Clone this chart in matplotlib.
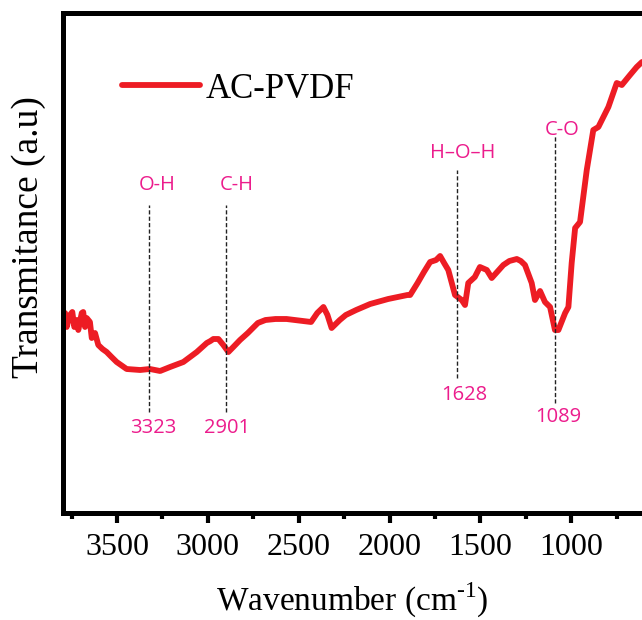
import numpy as np
import matplotlib.pyplot as plt
from matplotlib.transforms import offset_copy

plt.rcParams['mathtext.fontset'] = 'custom'
plt.rcParams['mathtext.rm'] = 'Liberation Serif'

# FTIR spectrum of AC-PVDF
wavenumber = [3800, 3786, 3777, 3759, 3746, 3735, 3722, 3713, 3694, 3686,
              3676, 3667, 3649, 3639, 3621, 3603, 3580, 3557, 3530, 3502,
              3447, 3373, 3319, 3263, 3208, 3135, 3061, 3006, 2986, 2970,
              2942, 2915, 2887, 2860, 2823, 2780, 2725, 2683, 2628, 2567,
              2432, 2398, 2364, 2342, 2319, 2274, 2241, 2184, 2107, 2008,
              1902, 1887, 1846, 1811, 1777, 1744, 1722, 1700, 1677, 1640,
              1603, 1585, 1567, 1531, 1503, 1465, 1438, 1374, 1341, 1300,
              1278, 1255, 1218, 1200, 1172, 1145, 1117, 1090, 1071, 1034,
              1016, 998, 979, 952, 915, 879, 851, 796, 750, 722, 677, 640,
              611]
transmittance = [38.6, 40.0, 37.2, 39.6, 40.2, 37.2, 38.6, 36.6, 40.0, 40.2,
                 37.2, 39.0, 38.2, 35.0, 36.0, 33.6, 32.8, 32.2, 31.2, 30.2,
                 28.8, 28.6, 28.8, 28.4, 29.2, 30.2, 32.2, 34.0, 34.4, 34.8,
                 34.8, 33.6, 32.2, 33.2, 34.6, 36.0, 38.0, 38.6, 38.8, 38.8,
                 38.2, 40.0, 41.2, 39.6, 37.0, 38.6, 39.6, 40.6, 41.8, 42.8,
                 43.6, 43.6, 46.0, 48.2, 50.2, 50.6, 51.4, 50.0, 48.6, 43.6,
                 42.6, 41.6, 46.0, 47.2, 49.2, 48.6, 47.0, 49.6, 50.4, 50.8,
                 50.4, 49.6, 46.0, 42.6, 44.4, 42.2, 41.2, 36.6, 36.6, 40.0,
                 41.2, 50.0, 57.0, 58.2, 68.6, 76.6, 77.2, 81.2, 86.0, 85.6,
                 87.6, 89.2, 90.2]

# band assignments: position, group name, dashed line extent
peak_pos = [3323, 2901, 1628, 1089]
peak_names = ['O-H', 'C-H', 'H\u2013O\u2013H', 'C-O']
line_top = [61.6, 61.6, 68.6, 75.6]
line_bottom = [20.2, 20.2, 27.0, 22.0]
name_y = [65.6, 65.6, 72.0, 76.6]
value_y = [17.0, 17.0, 23.6, 19.2]
name_dx = [6, 8, 4, 5]
value_dx = [3, 1, 5, 2]

red = '#ED1C24'
pink = '#EC1C8C'
serif = 'Liberation Serif'

fig = plt.figure(figsize=(6.42, 6.20), dpi=100)
ax = fig.add_axes([62.5 / 642, 107 / 620, 579.5 / 642, 500.5 / 620])

ax.plot(wavenumber, transmittance, color=red, lw=4.2, solid_joinstyle='round',
        solid_capstyle='round', label='AC-PVDF')

for pos, name, top, bot, ny, vy, ndx, vdx in zip(peak_pos, peak_names, line_top,
                                                line_bottom, name_y, value_y,
                                                name_dx, value_dx):
    ax.plot([pos, pos], [bot, top], color='#222222', lw=1.0,
            linestyle=(0, (3, 1.6)))
    ax.text(pos, ny, name, color=pink, fontsize=14.5, family='Open Sans',
            ha='center', va='center',
            transform=offset_copy(ax.transData, fig=fig, x=ndx, y=0, units='points'))
    ax.text(pos, vy, str(pos), color=pink, fontsize=14.5, family='Open Sans',
            ha='center', va='center',
            transform=offset_copy(ax.transData, fig=fig, x=vdx, y=0, units='points'))

ax.set_xlim(3800, 611)
ax.set_ylim(0, 100.1)

ax.set_xticks([3500, 3000, 2500, 2000, 1500, 1000])
ax.set_xticks(np.arange(3750, 600, -500), minor=True)
ax.set_yticks([])
ax.tick_params(axis='x', which='major', direction='out', length=7.5, width=3,
               pad=7, labelsize=23)
ax.tick_params(axis='x', which='minor', direction='out', length=4, width=3)
for lab in ax.get_xticklabels():
    lab.set_fontfamily(serif)

for side in ['left', 'top', 'bottom']:
    ax.spines[side].set_linewidth(3.6)
ax.spines['right'].set_visible(False)

ax.set_xlabel('Wavenumber (cm$^{\\text{-1}}$)', fontsize=24,
              family=serif, va='top')
ax.xaxis.set_label_coords(0.5, -0.135)
ax.set_ylabel('Transmitance (a.u)', fontsize=27, family=serif)
ax.yaxis.set_label_coords(-0.028, 0.551)

ax.legend(loc='center left', bbox_to_anchor=(0.1027, 0.847), frameon=False,
          prop={'family': serif, 'size': 25}, handlelength=2.25,
          handletextpad=0.15, borderpad=0, borderaxespad=0)

fig.savefig('out.png', dpi=100)
